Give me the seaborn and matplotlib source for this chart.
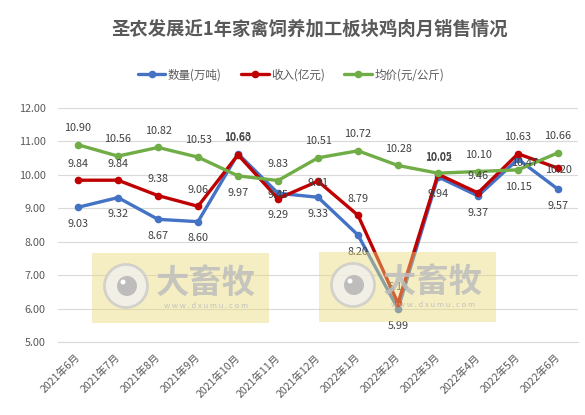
import numpy as np
import pandas as pd
import matplotlib.pyplot as plt
import matplotlib.patches as mpatches
import seaborn as sns

# Monthly chicken sales, Sunner Development (poultry segment)
months = ['2021年6月', '2021年7月', '2021年8月', '2021年9月', '2021年10月', '2021年11月',
          '2021年12月', '2022年1月', '2022年2月', '2022年3月', '2022年4月', '2022年5月',
          '2022年6月']
volume = [9.03, 9.32, 8.67, 8.60, 10.63, 9.45, 9.33, 8.20, 5.99, 9.94, 9.37, 10.47, 9.57]
revenue = [9.84, 9.84, 9.38, 9.06, 10.60, 9.29, 9.81, 8.79, 6.16, 10.02, 9.46, 10.63, 10.20]
price = [10.90, 10.56, 10.82, 10.53, 9.97, 9.83, 10.51, 10.72, 10.28, 10.05, 10.10, 10.15, 10.66]
series_names = ['数量(万吨)', '收入(亿元)', '均价(元/公斤)']
y_ticks = [5, 6, 7, 8, 9, 10, 11, 12]

# where each data label sits relative to its point (a=above, b=below, c=on point, r=right)
volume_pos = ['b', 'b', 'b', 'b', 'a', 'c', 'b', 'b', 'b', 'b', 'b', 'r', 'b']
revenue_pos = ['a', 'a', 'a', 'a', 'a', 'b', 'c', 'a', 'a', 'a', 'a', 'a', 'c']
price_pos = ['a', 'a', 'a', 'a', 'b', 'a', 'a', 'a', 'a', 'a', 'a', 'b', 'a']
offsets = {'a': (0, 12), 'b': (0, -12), 'c': (0, -1), 'r': (5, -3)}

colors = ['#4472C4', '#C00000', '#70AD47']
grid_color = '#D9D9D9'
text_color = '#595959'

sns.set_theme(style='white')
plt.rcParams['font.family'] = ['Noto Sans CJK SC', 'DejaVu Sans']

W, H = 585, 415
fig = plt.figure(figsize=(W / 100, H / 100), dpi=100)
ax = fig.add_axes([58 / W, 1 - 342 / H, 520 / W, (342 - 108) / H])

x = np.arange(len(months))
df = pd.DataFrame({'x': x, series_names[0]: volume,
                   series_names[1]: revenue, series_names[2]: price})

for name, color, pos in zip(series_names, colors, [volume_pos, revenue_pos, price_pos]):
    sns.lineplot(data=df, x='x', y=name, ax=ax, color=color, linewidth=2.4,
                 marker='o', markersize=5.5, markeredgewidth=0, label=name)
    for xi, v, p in zip(df['x'], df[name], pos):
        ax.annotate(f'{v:.2f}', (xi, v), xytext=offsets[p], textcoords='offset points',
                    ha='center', va='center', fontsize=7.8, color='#404040')

ax.set_xlim(-0.5, len(months) - 0.5)
ax.set_ylim(5, 12)
ax.set_yticks(y_ticks)
ax.set_yticklabels([f'{t:.2f}' for t in y_ticks], fontsize=7.8, color=text_color)
ax.set_xticks(x)
ax.set_xticklabels(months, rotation=45, ha='right', va='center',
                   rotation_mode='anchor', fontsize=7.6, color=text_color)
ax.set_xticks(np.arange(-0.5, len(months), 1), minor=True)
ax.tick_params(axis='x', which='major', length=0, pad=10)
ax.tick_params(axis='x', which='minor', length=3, color=grid_color, width=0.8, direction='out')
ax.tick_params(axis='y', length=0, pad=9)
ax.set_xlabel('')
ax.set_ylabel('')
ax.grid(axis='y', color=grid_color, linewidth=0.8)
ax.set_axisbelow(True)
for side in ['left', 'right', 'top']:
    ax.spines[side].set_visible(False)
ax.spines['bottom'].set_color(grid_color)
ax.spines['bottom'].set_linewidth(0.8)

handles, labels = ax.get_legend_handles_labels()
ax.get_legend().remove()
fig.legend(handles, labels, loc='center', bbox_to_anchor=(291 / W, 1 - 75 / H), ncol=3,
           frameon=False, fontsize=8.3, labelcolor=text_color, handlelength=2.4,
           handletextpad=0.2, columnspacing=1.7)

fig.text(310 / W, 1 - 29 / H, '圣农发展近1年家禽饲养加工板块鸡肉月销售情况',
         ha='center', va='center', fontsize=13.2, fontweight='bold', color=text_color)


# semi-transparent "大畜牧" watermarks laid over the plot
def px(xp, yp):
    return xp / W, 1 - yp / H


def watermark(x0, y0):
    fx, fy = px(x0, y0 + 70)
    fig.add_artist(mpatches.Rectangle((fx, fy), 177 / W, 70 / H, transform=fig.transFigure,
                                      facecolor='#E9DB7A', alpha=0.45, edgecolor='none', zorder=5))
    cx, cy = x0 + 34, y0 + 33
    fig.add_artist(mpatches.Ellipse(px(cx, cy), 43 / W, 43 / H, transform=fig.transFigure,
                                    facecolor='#F2F2F2', edgecolor='#C8C8C8', linewidth=2,
                                    alpha=0.75, zorder=6))
    fig.add_artist(mpatches.Ellipse(px(cx + 1, cy), 20 / W, 20 / H, transform=fig.transFigure,
                                    facecolor='#B5B5B5', edgecolor='none', alpha=0.85, zorder=7))
    fig.add_artist(mpatches.Ellipse(px(cx - 3, cy - 4), 5 / W, 5 / H, transform=fig.transFigure,
                                    facecolor='white', edgecolor='none', zorder=8))
    tx, ty = px(x0 + 114, y0 + 30)
    fig.text(tx, ty, '大畜牧', ha='center', va='center', fontsize=24, fontweight='bold',
             color='#BDBDBD', alpha=0.85, zorder=7)
    tx, ty = px(x0 + 114, y0 + 53)
    fig.text(tx, ty, 'w w w . d x u m u . c o m', ha='center', va='center', fontsize=5.5,
             color='#BDBDBD', alpha=0.9, zorder=7)


watermark(92, 253)
watermark(319, 252)

fig.savefig('out.png', dpi=100)
